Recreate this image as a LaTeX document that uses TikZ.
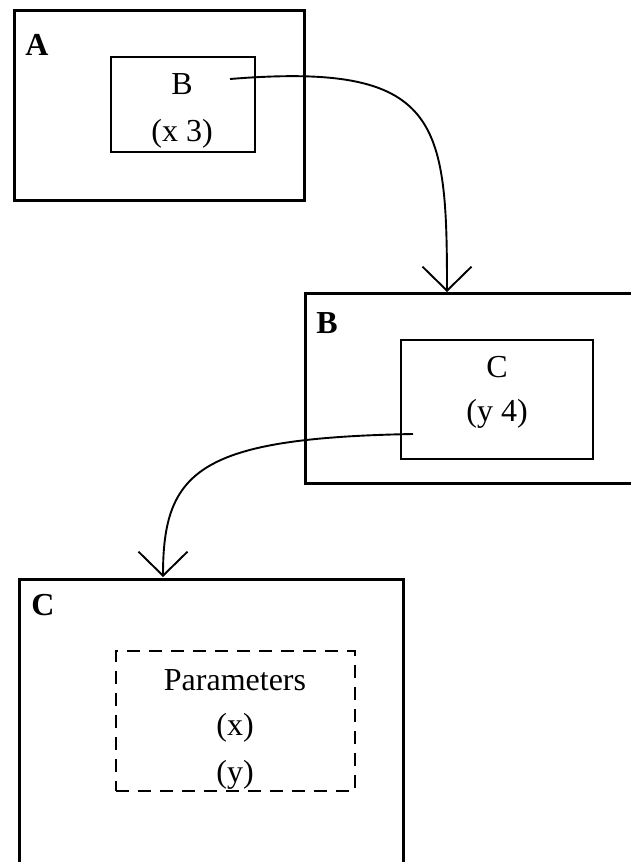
\documentclass[tikz,border=0pt]{standalone}
\usepackage{fontspec}
\setmainfont{Liberation Serif}
\usetikzlibrary{arrows.meta}

\begin{document}
\begin{tikzpicture}[x=1pt, y=-1pt,
    outerbox/.style={draw, line width=2.6pt, rectangle, inner sep=0pt, anchor=north west},
    innerbox/.style={draw, line width=1.8pt, rectangle, inner sep=0pt, anchor=north west},
    parambox/.style={draw, line width=1.8pt, dash pattern=on 13pt off 9pt, rectangle, inner sep=0pt, anchor=north west},
    title/.style={font=\fontsize{32}{38}\selectfont\bfseries, inner sep=0pt},
    txt/.style={font=\fontsize{32}{38}\selectfont, inner sep=0pt},
    link/.style={line width=1.9pt, -{Straight Barb[length=24pt, width=49pt, line width=1.9pt]}}]

  \useasboundingbox (0,0) rectangle (631,862);

  % block A with its instance of B
  \node[outerbox, minimum width=290pt, minimum height=190pt] (boxA) at (13,9) {};
  \node[title] (labA) at (37,45) {A};
  \node[innerbox, minimum width=144pt, minimum height=95pt] (instB) at (110,56) {};
  \node[txt] (instBname) at (182,84) {B};
  \node[txt] (instBcount) at (182,134) {(x 3)};

  % block B with its instance of C
  \node[outerbox, minimum width=360pt, minimum height=190pt] (boxB) at (304,292) {};
  \node[title] (labB) at (327,323) {B};
  \node[innerbox, minimum width=192pt, minimum height=119pt] (instC) at (400,339) {};
  \node[txt] (instCname) at (497,367) {C};
  \node[txt] (instCcount) at (497,414) {(y 4)};

  % block C with its parameter list
  \node[outerbox, minimum width=384pt, minimum height=300pt] (boxC) at (18,578) {};
  \node[title] (labC) at (43,605) {C};
  \node[parambox, minimum width=239pt, minimum height=140pt] (params) at (115,650) {};
  \node[txt] (parhead) at (235,680) {Parameters};
  \node[txt] (parx) at (235,728) {(x)};
  \node[txt] (pary) at (235,775) {(y)};

  % connectors from each instance to the block it refers to
  \coordinate (fromB) at (230,79);
  \coordinate (intoB) at (447,292);
  \coordinate (fromC) at (413,434);
  \coordinate (intoC) at (163,577);

  \draw[link] (fromB) .. controls (440,62) and (447,120) .. (intoB);
  \draw[link] (fromC) .. controls (200,438) and (163,470) .. (intoC);
\end{tikzpicture}
\end{document}
